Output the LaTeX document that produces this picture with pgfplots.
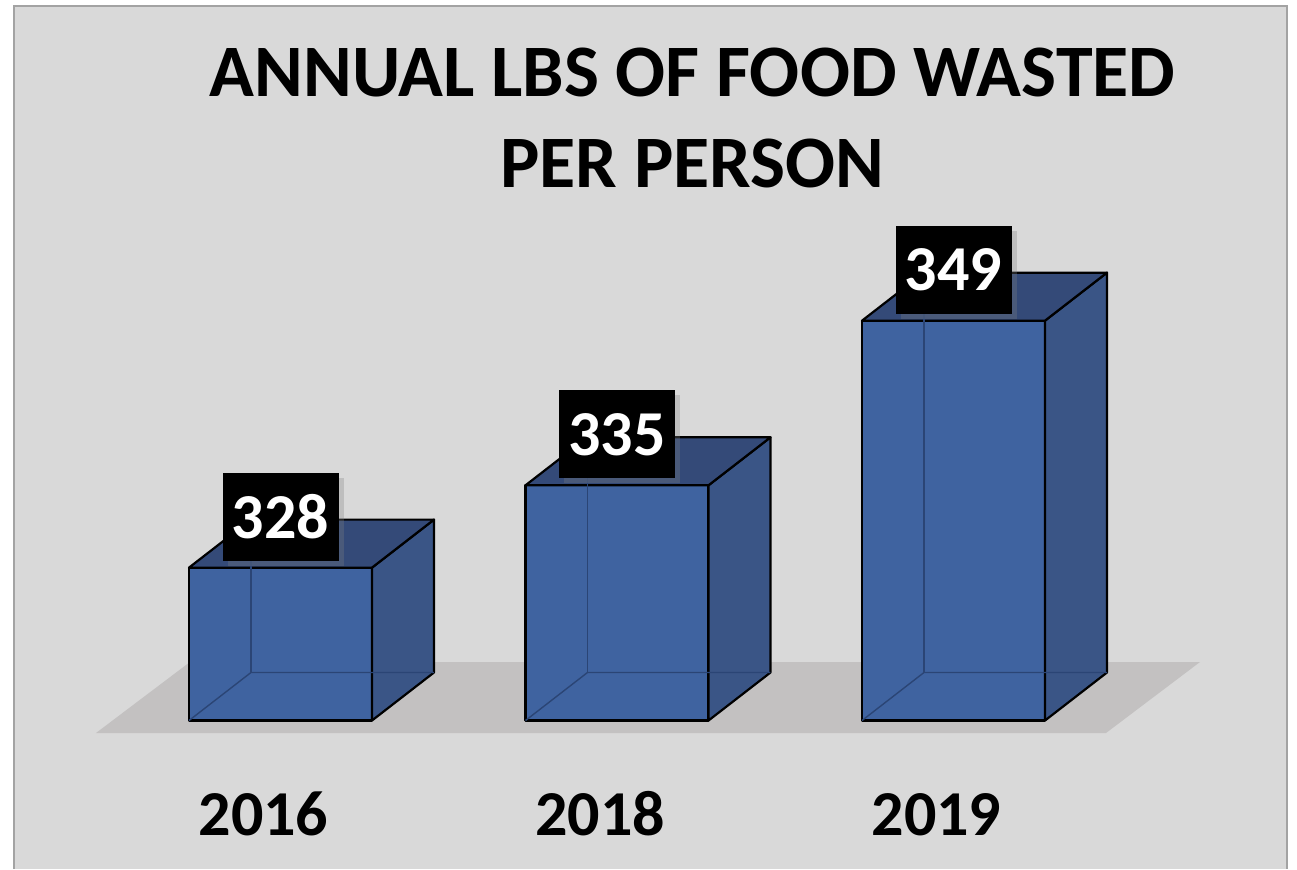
\documentclass[border=0pt]{standalone}
\usepackage{fontspec}
\setmainfont{Carlito}
\usepackage{pgfplots}
\usepackage{pgfplotstable}
\pgfplotsset{compat=1.18}
\usetikzlibrary{shadows}

\definecolor{bg}{HTML}{D9D9D9}
\definecolor{frame}{HTML}{A3A3A3}
\definecolor{floor}{HTML}{C3C1C1}
\definecolor{front}{HTML}{3F63A0}
\definecolor{side}{HTML}{3A5586}
\definecolor{topf}{HTML}{344A78}
\definecolor{hidden}{HTML}{2B4575}

% lbs of food wasted per person
\pgfplotstableread{
x v
0 328
1 335
2 349
}\waste

\begin{document}
\begin{tikzpicture}
\begin{axis}[
    scale only axis,
    width=648.5pt, height=434.5pt,
    xmin=-0.83358, xmax=3.02080,
    ymin=302.372, ymax=376.267,
    clip=false,
    axis on top,
    axis line style={draw=none},
    major tick length=0pt,
    ytick=\empty,
    xtick={0,1,2},
    xticklabels={2016,2018,2019},
    xticklabel style={font=\fontsize{32}{38}\selectfont\bfseries, anchor=base, yshift=17pt, xshift=-8.5pt},
    /pgf/number format/assume math mode=true,
    face/.style={line width=1.1pt, draw=black, line join=round},
    back/.style={hidden, line width=0.7pt},
]
\coordinate (sw) at (rel axis cs:0,0);
\coordinate (ne) at (rel axis cs:1,1);

% chart area
\fill[bg] (rel axis cs:0.010794,0) rectangle (rel axis cs:0.99229,0.99310);
\draw[frame, line width=1pt] (rel axis cs:0.010794,0) |- (rel axis cs:0.99229,0.99310) -- (rel axis cs:0.99229,0);

% floor
\addplot[fill=floor, draw=none] coordinates {(-0.5483,313.937) (2.4532,313.937) (2.7325,319.974) (-0.2689,319.974)} -- cycle;

% 2016
\addplot[face, fill=front] coordinates {(-0.2719,315) (0.2719,315) (0.2719,328) (-0.2719,328)} -- cycle;
\addplot[face, fill=side] coordinates {(0.2719,315) (0.4561,319.082) (0.4561,332.082) (0.2719,328)} -- cycle;
\addplot[face, fill=topf] coordinates {(-0.2719,328) (0.2719,328) (0.4561,332.082) (-0.0877,332.082)} -- cycle;
\addplot[back] coordinates {(-0.2719,315) (-0.0877,319.082) (0.4561,319.082)};
\addplot[back] coordinates {(-0.0877,319.082) (-0.0877,332.082)};

% 2018
\addplot[face, fill=front] coordinates {(0.7281,315) (1.2719,315) (1.2719,335) (0.7281,335)} -- cycle;
\addplot[face, fill=side] coordinates {(1.2719,315) (1.4561,319.082) (1.4561,339.082) (1.2719,335)} -- cycle;
\addplot[face, fill=topf] coordinates {(0.7281,335) (1.2719,335) (1.4561,339.082) (0.9123,339.082)} -- cycle;
\addplot[back] coordinates {(0.7281,315) (0.9123,319.082) (1.4561,319.082)};
\addplot[back] coordinates {(0.9123,319.082) (0.9123,339.082)};

% 2019
\addplot[face, fill=front] coordinates {(1.7281,315) (2.2719,315) (2.2719,349) (1.7281,349)} -- cycle;
\addplot[face, fill=side] coordinates {(2.2719,315) (2.4561,319.082) (2.4561,353.082) (2.2719,349)} -- cycle;
\addplot[face, fill=topf] coordinates {(1.7281,349) (2.2719,349) (2.4561,353.082) (1.9123,353.082)} -- cycle;
\addplot[back] coordinates {(1.7281,315) (1.9123,319.082) (2.4561,319.082)};
\addplot[back] coordinates {(1.9123,319.082) (1.9123,353.082)};

% value labels
\addplot[draw=none, no marks, point meta=explicit,
    nodes near coords,
    nodes near coords style={fill=black, text=white, anchor=center, yshift=25.5pt,
        font=\fontsize{32}{38}\selectfont\bfseries,
        minimum width=58pt, minimum height=44pt, inner sep=0pt,
        drop shadow={shadow xshift=2.5pt, shadow yshift=-2.5pt, opacity=0.3}},
] table[x=x, y=v, meta=v] {\waste};

% title
\node[anchor=base, font=\fontsize{37}{44}\selectfont\bfseries] at (rel axis cs:0.5339,0.8884) {ANNUAL LBS OF FOOD WASTED};
\node[anchor=base, font=\fontsize{37}{44}\selectfont\bfseries] at (rel axis cs:0.5339,0.7848) {PER PERSON};
\end{axis}
\pgfresetboundingbox
\useasboundingbox (sw) rectangle (ne);
\end{tikzpicture}
\end{document}
